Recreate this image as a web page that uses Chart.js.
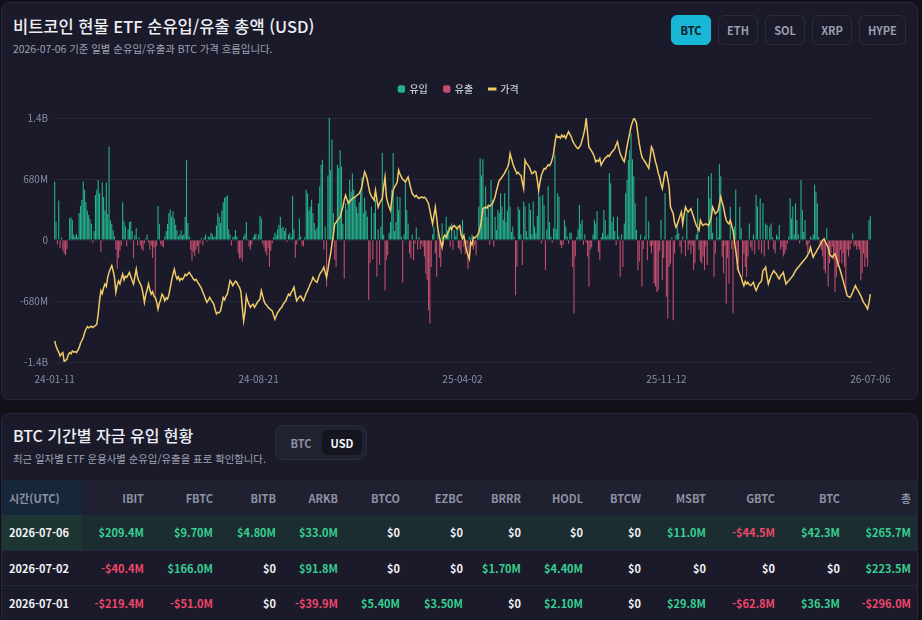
<!DOCTYPE html>
<html lang="ko">
<head>
<meta charset="utf-8">
<title>비트코인 현물 ETF 순유입/유출 총액</title>
<script src="https://cdn.jsdelivr.net/npm/chart.js@4.4.1/dist/chart.umd.min.js"></script>
<style>
* { box-sizing: border-box; }
html, body { margin: 0; padding: 0; }
body {
    width: 922px; height: 620px; overflow: hidden; position: relative;
    background: #11111a;
    font-family: "Noto Sans CJK KR", "Noto Sans", sans-serif;
    color: #eceef4;
}
.card {
    position: absolute; left: 1px; width: 917px;
    background: #1a1a2a; border: 1px solid #272839; border-radius: 8px; overflow: hidden;
}
#card1 { top: 2px; height: 398px; }
#card2 { top: 413px; height: 240px; }
.title { position: absolute; left: 11px; font-size: 16.5px; line-height: 24px; font-weight: 500; color: #eceef4; white-space: nowrap; }
.sub { position: absolute; left: 11px; font-size: 10.4px; line-height: 14px; color: #9ea2b2; white-space: nowrap; }
#card1 .title { top: 11px; }
#card1 .sub { top: 39px; }
#card2 .title { top: 9px; font-size: 16px; }
#card2 .sub { top: 38px; }
.coins { position: absolute; top: 12px; left: 669px; display: flex; gap: 7px; }
.coin {
    height: 30px; min-width: 40px; padding: 0 8px; border-radius: 6px;
    border: 1px solid #2b2d3e; color: #9a9eae; font-size: 11px; font-weight: 700;
    display: flex; align-items: center; justify-content: center;
}
.coin.active { background: #17b7d5; border-color: #17b7d5; color: #0c1a22; }
#chartBox { position: absolute; left: 0; top: 65px; width: 913px; height: 325px; }
.toggle {
    position: absolute; left: 273px; top: 11px; width: 92px; height: 35px;
    background: #202131; border: 1px solid #2a2c3d; border-radius: 8px;
}
.toggle span { position: absolute; top: 4px; height: 25px; width: 40px; border-radius: 6px;
    font-size: 11px; font-weight: 700; display: flex; align-items: center; justify-content: center; }
.toggle .off { left: 5px; color: #8d91a1; }
.toggle .on { left: 46px; background: #14151f; color: #f4f5f9; }
table { position: absolute; top: 66px; left: 0; width: 915px; border-collapse: collapse; table-layout: fixed; }
th, td { height: 35px; padding: 0 6px; font-size: 11px; font-weight: 700; text-align: right; white-space: nowrap; }
th { background: #1f2030; color: #8d92a3; }
th:first-child { background: #17273a; text-align: left; padding-left: 7px; }
td:first-child { text-align: left; padding-left: 7px; color: #f1f2f6; }
tr.hi td { background: #1b2d31; }
tr.hi td:first-child { background: #1d3533; }
tbody tr { border-bottom: 1px solid #25273a; }
.pos { color: #37d092; }
.neg { color: #f1466b; }
.zero { color: #f1f2f6; }
</style>
</head>
<body>
<div class="card" id="card1">
    <div class="title">비트코인 현물 ETF 순유입/유출 총액 (USD)</div>
    <div class="sub">2026-07-06 기준 일별 순유입/유출과 BTC 가격 흐름입니다.</div>
    <div class="coins" id="coins"></div>
    <div id="chartBox"><canvas id="grafico"></canvas></div>
</div>
<div class="card" id="card2">
    <div class="title">BTC 기간별 자금 유입 현황</div>
    <div class="sub">최근 일자별 ETF 운용사별 순유입/유출을 표로 확인합니다.</div>
    <div class="toggle"><span class="off">BTC</span><span class="on">USD</span></div>
    <table id="tabela"></table>
</div>
<script>
// Moedas do seletor
const coins = ['BTC', 'ETH', 'SOL', 'XRP', 'HYPE'];

// Rótulos do eixo x (um a cada 150 pregões)
const tickLabels = ['24-01-11', '24-08-21', '25-04-02', '25-11-12', '26-07-06'];
const tickStep = 150;

// Fluxo líquido diário (milhões de USD)
const flows = [
    650,200,-50,440,-90,30,-120,-150,-170,-100,
    10,240,250,220,60,40,70,30,300,380,
    450,650,560,420,330,280,230,180,-30,100,
    500,560,670,520,-130,640,480,330,640,290,
    1040,220,180,110,40,-110,-320,-200,-120,-60,
    420,210,150,-70,120,200,210,100,-200,50,
    130,-60,30,-60,-100,-120,-40,20,60,-30,
    -110,-60,-200,-80,-620,-70,380,180,-50,-70,
    -80,40,100,180,300,340,260,320,240,170,
    110,40,60,110,50,60,260,890,190,40,
    -110,-230,-130,-180,-110,-70,-150,-40,20,-60,
    30,60,-20,40,30,80,60,30,40,160,
    300,260,190,330,420,470,480,500,120,60,
    -60,30,40,110,40,-150,-210,-200,-240,40,
    70,200,10,-75,-110,-50,30,60,70,10,
    60,270,240,-40,-80,-130,-170,-90,-300,-120,
    -40,30,80,50,120,170,260,130,150,100,
    130,-20,60,80,30,490,120,-200,-50,20,
    240,40,-60,-70,30,560,520,330,370,450,
    300,190,110,140,410,600,840,895,-110,150,
    -520,720,1360,780,1120,300,-220,-300,840,800,
    1000,820,180,-430,410,340,450,670,540,740,
    560,480,370,300,420,560,700,300,470,330,
    260,-670,-260,370,-220,300,450,-410,120,-280,
    150,970,60,-560,-220,-170,80,200,560,970,
    100,200,485,335,480,40,-470,60,670,335,
    185,-150,-205,60,-225,-40,140,-110,30,-100,
    -40,-75,-185,-375,-450,-780,-930,-300,60,150,
    -150,-410,80,-200,-300,185,-60,60,260,110,
    150,-75,185,-110,110,40,160,-90,-110,-150,
    225,-80,-160,-40,-320,40,20,60,-110,-60,
    -170,40,370,910,720,900,370,600,260,370,
    -55,670,450,-75,260,110,335,300,520,373,
    225,520,200,330,780,370,90,150,40,-615,
    -300,370,335,60,-280,430,373,100,30,410,
    335,60,430,150,80,270,560,485,-40,503,
    390,-335,120,600,200,40,-30,130,950,120,
    520,485,-55,-90,-55,225,150,40,-40,80,
    80,-300,-820,-185,30,120,390,185,225,-55,
    60,-30,-185,-520,-110,-80,60,225,185,320,
    -130,-225,30,80,335,224,40,60,745,634,
    200,260,100,-55,260,40,-410,60,-300,185,
    520,670,895,1000,1190,900,710,410,110,-335,
    -240,60,-520,-100,40,485,-225,205,-70,-150,
    -60,-485,-520,-580,-560,-120,225,-450,-200,520,
    -634,-875,-300,-260,30,-895,-150,56,168,75,
    -75,-150,40,-20,-185,300,-110,-40,-150,-60,
    -335,-260,60,466,-110,-240,-260,-185,-335,-70,
    -280,710,466,745,80,-410,-150,260,30,845,
    710,-185,-370,-60,-710,-200,-485,370,-100,-820,
    150,560,-335,-260,370,130,-410,-150,-300,-410,
    -185,185,-80,-120,60,-160,505,373,-110,466,
    -150,410,-185,185,168,-110,150,185,30,-110,
    -150,60,40,168,-110,-75,-185,-150,-110,-40,
    40,466,240,373,60,410,224,60,-40,670,
    335,90,224,-60,-150,-40,40,20,60,615,
    540,410,30,-40,-110,-185,-335,-370,130,-520,
    -260,-150,-75,-220,-580,-410,-300,-260,-110,-260,
    -150,-300,-560,-110,-185,-110,-40,75,-75,-55,
    -110,-75,-110,-450,-370,-150,-300,-200,-296,223.5,265.7
];

// Preço do BTC (milhares de USD)
const prices = [
    45.6,43.8,42.5,41.6,40.2,40.9,41.4,38.2,38.6,39.0,
    40.6,41.4,41.0,42.0,41.6,41.8,41.4,42.2,43.2,44.8,
    45.8,46.9,48.6,49.9,50.8,50.4,50.7,51.0,50.5,50.9,
    51.2,51.7,55.4,60.2,63.9,62.8,64.9,66.3,65.4,68.7,
    70.6,71.8,73.0,71.1,68.7,63.3,65.8,67.4,66.3,68.2,
    69.9,67.8,69.1,68.7,69.6,70.5,68.9,67.5,66.3,69.0,
    71.7,68.7,67.2,66.4,65.1,62.8,59.6,62.4,64.1,66.3,
    64.2,62.6,63.5,61.9,61.4,59.8,57.2,59.3,60.7,62.6,
    61.8,60.2,61.3,60.8,62.4,64.9,67.5,69.8,71.7,69.5,
    68.1,68.9,67.5,68.3,67.9,68.7,69.8,69.3,70.0,70.5,
    69.7,69.0,68.1,67.6,68.0,67.1,66.3,65.5,64.6,63.3,
    62.1,60.8,59.6,60.4,61.4,60.5,59.8,59.0,57.1,55.4,
    56.0,55.8,56.6,58.9,61.4,60.6,61.9,62.6,65.0,67.5,
    66.8,65.7,66.5,67.3,66.9,65.8,65.1,63.5,58.0,52.9,
    56.2,62.0,60.1,58.9,57.8,58.6,59.0,57.8,58.6,59.6,
    60.2,60.8,63.9,62.0,60.1,59.0,58.6,57.8,57.4,56.9,
    56.6,55.0,53.5,54.8,55.9,56.6,57.4,57.8,58.9,59.6,
    60.2,61.5,62.6,62.1,63.3,64.0,65.1,62.4,60.2,61.0,
    61.6,62.0,61.1,60.2,61.5,62.9,63.9,65.0,66.3,67.2,
    68.7,67.9,67.2,66.9,68.5,69.9,70.6,71.3,72.4,70.5,
    68.7,71.5,74.8,77.4,80.9,84.0,88.1,88.6,89.4,90.0,
    90.6,92.5,94.2,96.8,98.5,97.0,95.5,96.2,96.8,97.3,
    97.6,97.9,98.3,98.7,99.1,100.2,101.6,104.5,107.0,105.8,
    104.0,101.4,99.1,98.2,97.4,96.6,100.3,97.0,94.2,95.6,
    96.5,97.3,101.5,105.1,97.9,95.8,94.2,93.0,96.8,100.3,
    101.5,102.2,103.3,107.6,106.2,105.1,104.3,103.8,103.3,104.2,
    105.1,103.0,101.0,99.1,98.5,97.9,98.4,97.8,97.3,97.6,
    97.9,97.5,97.8,97.3,96.4,95.5,93.0,90.5,88.1,91.0,
    94.2,90.3,85.7,83.5,81.4,79.6,83.3,84.0,83.2,84.5,
    85.6,86.9,86.0,87.2,87.5,86.8,86.3,87.0,87.5,84.0,
    82.7,83.9,81.0,78.4,76.8,75.4,81.5,80.6,83.3,83.0,
    83.5,83.9,85.0,86.9,89.5,93.6,93.9,94.2,93.8,94.8,
    94.5,95.0,95.4,96.6,97.9,100.2,102.0,103.9,104.3,105.1,
    105.8,106.5,107.6,108.4,110.0,113.6,111.8,110.0,108.6,107.5,
    106.3,106.8,106.0,105.7,103.2,100.9,111.2,110.1,109.5,108.8,
    107.6,106.3,106.6,107.2,106.9,104.0,100.3,103.2,105.7,107.0,
    108.2,108.0,108.8,109.5,109.2,110.0,111.5,113.6,117.5,120.3,
    119.5,119.7,119.2,120.3,119.6,120.1,119.1,120.4,121.5,120.6,
    119.7,118.2,117.3,116.5,115.8,115.4,116.0,116.7,118.5,120.3,
    122.6,126.4,121.0,116.0,115.2,114.5,113.6,112.4,110.6,111.2,
    110.8,111.8,109.4,110.5,111.2,112.0,112.4,113.0,112.6,113.6,
    114.2,114.8,115.4,116.8,117.9,115.5,113.6,112.5,111.4,110.6,
    113.0,116.0,118.6,120.9,123.5,125.0,126.4,125.8,124.6,120.8,
    117.3,114.6,112.4,111.5,110.8,110.0,109.1,108.2,112.0,116.0,
    115.0,112.8,110.6,108.9,106.5,105.1,102.6,100.9,104.0,106.9,
    107.0,104.4,101.5,94.2,93.0,91.8,88.5,86.9,88.0,89.4,
    91.0,92.4,88.1,91.5,94.2,93.1,92.4,93.0,93.6,92.1,
    90.6,89.0,87.5,86.6,85.7,89.4,88.2,87.5,87.9,88.1,
    87.8,87.5,88.9,90.6,94.2,93.0,91.8,92.2,93.0,95.3,
    97.9,96.0,94.2,91.5,89.4,88.6,88.1,89.4,87.5,85.7,
    82.0,78.4,74.6,71.1,69.8,68.7,67.0,65.7,67.2,66.3,
    66.9,66.0,65.7,66.3,66.9,65.2,63.9,65.0,66.3,66.8,
    67.5,71.1,71.6,72.4,69.0,66.3,67.8,69.3,70.2,71.1,
    70.4,69.9,68.8,68.1,69.3,69.8,70.5,68.2,66.3,67.0,
    67.5,68.1,68.7,69.3,70.2,71.1,71.8,72.4,73.0,73.6,
    74.2,74.8,75.4,76.0,76.9,77.8,79.6,77.5,76.0,77.0,
    77.8,78.8,79.6,80.5,81.5,82.2,82.7,81.5,80.6,79.6,
    77.2,76.5,76.0,76.8,77.2,75.8,74.2,72.6,71.1,69.3,
    67.5,65.6,63.9,62.0,61.7,61.4,62.2,63.3,64.6,65.7,
    64.6,63.9,63.0,62.0,60.8,59.6,59.0,58.2,57.2,59.5,62.6
];

// Tabela por gestora
const tableHeaders = ['시간(UTC)', 'IBIT', 'FBTC', 'BITB', 'ARKB', 'BTCO', 'EZBC', 'BRRR', 'HODL', 'BTCW', 'MSBT', 'GBTC', 'BTC', '총'];
const tableDates = ['2026-07-06', '2026-07-02', '2026-07-01'];
const tableValues = [
    [209.4, 9.7, 4.8, 33.0, 0, 0, 0, 0, 0, 11.0, -44.5, 42.3, 265.7],
    [-40.4, 166.0, 0, 91.8, 0, 0, 1.7, 4.4, 0, 0, 0, 0, 223.5],
    [-219.4, -51.0, 0, -39.9, 5.4, 3.5, 0, 2.1, 0, 29.8, -62.8, 36.3, -296.0]
];
const colWidths = [80, 68, 69, 63, 62, 62, 63, 58, 62, 58, 65, 69, 65, 71];

// Botões das moedas
document.getElementById('coins').innerHTML = coins
    .map((c, i) => `<div class="coin${i === 0 ? ' active' : ''}">${c}</div>`).join('');

// Formata valores em milhões
function formatMoney(v) {
    if (v === 0) return '$0';
    const abs = Math.abs(v);
    const txt = abs < 10 ? abs.toFixed(2) : abs.toFixed(1);
    return (v < 0 ? '-$' : '$') + txt + 'M';
}

// Monta a tabela
function montarTabela() {
    let html = '<colgroup>' + colWidths.map(w => `<col style="width:${w}px">`).join('') + '</colgroup>';
    html += '<thead><tr>' + tableHeaders.map(h => `<th>${h}</th>`).join('') + '</tr></thead><tbody>';
    tableDates.forEach((d, r) => {
        html += `<tr class="${r === 0 ? 'hi' : ''}"><td>${d}</td>`;
        tableValues[r].forEach(v => {
            const cls = v > 0 ? 'pos' : (v < 0 ? 'neg' : 'zero');
            html += `<td class="${cls}">${formatMoney(v)}</td>`;
        });
        html += '</tr>';
    });
    html += '</tbody>';
    document.getElementById('tabela').innerHTML = html;
}
montarTabela();

// Rótulos das categorias
const labels = flows.map((v, i) => (i % tickStep === 0 ? tickLabels[i / tickStep] : ''));

Chart.defaults.font.family = '"Noto Sans CJK KR", "Noto Sans", sans-serif';
Chart.defaults.color = '#8a8fa0';

// Espaço extra entre legenda e gráfico
const legendGap = {
    id: 'legendGap',
    beforeInit(chart) {
        const fitOriginal = chart.legend.fit;
        chart.legend.fit = function () {
            fitOriginal.call(this);
            this.height += 14;
        };
    }
};

function formatAxis(v) {
    if (v === 0) return '0';
    if (Math.abs(v) >= 1000) return (v / 1000).toFixed(1) + 'B';
    return v + 'M';
}

const ctx = document.getElementById('grafico').getContext('2d');
const grafico = new Chart(ctx, {
    type: 'bar',
    data: {
        labels: labels,
        datasets: [
            {
                label: '유입',
                data: flows.map(v => (v > 0 ? v : null)),
                backgroundColor: '#25b38d',
                barPercentage: 0.8,
                categoryPercentage: 1,
                order: 1
            },
            {
                label: '유출',
                data: flows.map(v => (v < 0 ? v : null)),
                backgroundColor: '#c44e6e',
                barPercentage: 0.8,
                categoryPercentage: 1,
                order: 1
            },
            {
                type: 'line',
                label: '가격',
                data: prices,
                yAxisID: 'y1',
                borderColor: '#f0cb66',
                borderWidth: 1.5,
                pointRadius: 0,
                tension: 0,
                order: 0
            }
        ]
    },
    options: {
        responsive: true,
        maintainAspectRatio: false,
        animation: false,
        layout: { padding: { top: 0, right: 0, bottom: 5, left: 0 } },
        plugins: {
            tooltip: { enabled: false },
            legend: {
                position: 'top',
                labels: {
                    color: '#c4c8d4',
                    font: { size: 10, weight: '500' },
                    usePointStyle: true,
                    boxWidth: 6,
                    boxHeight: 6,
                    padding: 16,
                    generateLabels(chart) {
                        const items = Chart.defaults.plugins.legend.labels.generateLabels(chart);
                        items.forEach(it => {
                            if (it.text === '가격') {
                                it.pointStyle = 'line';
                                it.lineWidth = 3;
                            } else {
                                it.pointStyle = 'rectRounded';
                                it.lineWidth = 0;
                            }
                        });
                        return items.sort((a, b) => a.datasetIndex - b.datasetIndex);
                    }
                }
            }
        },
        scales: {
            x: {
                stacked: true,
                grid: { display: false },
                border: { display: false },
                ticks: { autoSkip: false, maxRotation: 0, minRotation: 0, font: { size: 10 }, color: '#8a8fa0', padding: 3 }
            },
            y: {
                stacked: true,
                min: -1360,
                max: 1360,
                ticks: { stepSize: 680, callback: formatAxis, font: { size: 10 }, color: '#8a8fa0', padding: 6 },
                grid: { color: 'rgba(255,255,255,0.06)', drawTicks: false },
                border: { display: false },
                afterFit(scale) { scale.width = 52; }
            },
            y1: {
                position: 'right',
                min: 38,
                max: 126.5,
                grid: { display: false },
                border: { display: false },
                ticks: { display: false },
                afterFit(scale) { scale.width = 44; }
            }
        }
    },
    plugins: [legendGap]
});
</script>
</body>
</html>
